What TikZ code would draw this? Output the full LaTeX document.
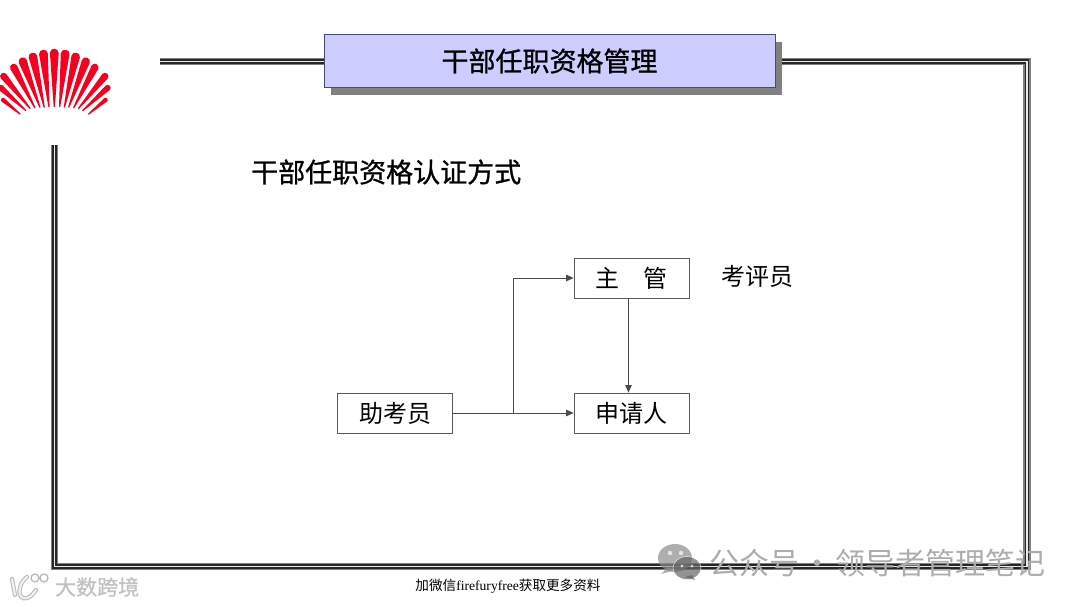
\documentclass[tikz,border=0pt]{standalone}
\usepackage{fontspec}
\setmainfont{Liberation Serif}
\newfontfamily\cjk{Noto Sans CJK SC}
\newfontfamily\cjkheavy[FakeBold=0.9]{Noto Sans CJK SC}
\usetikzlibrary{arrows.meta,calc}
\definecolor{titlefill}{HTML}{CCCCFF}
\definecolor{titleedge}{HTML}{4A4A78}
\definecolor{logored}{HTML}{F5001E}
\tikzset{
	rolebox/.style={draw=black!65,line width=0.8pt,fill=white,minimum width=115pt,minimum height=40pt,inner sep=0pt,font=\cjk\fontsize{24}{24}\selectfont},
	flow/.style={draw=black!70,line width=0.8pt,-{Stealth[length=7.5pt,width=6.5pt,inset=0pt]}},
	heading/.style={inner sep=0pt,font=\cjkheavy\fontsize{27}{27}\selectfont},
	markText/.style={inner sep=0pt,text=black!32,font=\cjk\fontsize{30}{30}\selectfont}
}
\newcommand{\fanpetal}[5]{%
	\pgfmathsetmacro{\petalang}{atan2((#2)-(#4),(#3)-(#1))}
	\pgfmathsetmacro{\petallen}{veclen((#3)-(#1),(#4)-(#2))}
	\begin{scope}[shift={(#1,#2)},rotate=\petalang]
		\fill[logored] (0,-0.6) -- (\petallen-#5,-#5) .. controls (\petallen+0.25*#5,-#5) and (\petallen+0.25*#5,#5) .. (\petallen-#5,#5) -- (0,0.6) -- cycle;
	\end{scope}}
\begin{document}
\begin{tikzpicture}[x=1pt,y=-1pt,>=Stealth]
	\useasboundingbox[fill=white] (0,0) rectangle (1080,607);
	% logo
	\fanpetal{54.3}{107}{54.3}{48.5}{4.4}
	\foreach \s in {-1,1}{
		\foreach \ix/\iy/\tx/\ty/\w in {5.3/107/11.3/49.5/4.4,10/107.5/22.3/52.5/4.3,14.3/107.5/33/57.5/4.2,19.3/108/42.3/64/3.8,24/108.7/53/73.5/3.5,28.3/110.7/55.7/85.7/3,34/114.3/53/98.5/2.2}{
			\fanpetal{54.3+\s*\ix}{\iy}{54.3+\s*\tx}{\ty}{\w}
		}
	}
	% frame
	\foreach \c/\w in {black!50/7.4,black!85/4.4,black!8/1.8}{
		\draw[\c,line width=\w pt,line join=miter] (160,61.5) -- (1027,61.5) -- (1027,566.5) -- (54.5,566.5) -- (54.5,145);
	}
	% title bar
	\fill[black!50] (331,42) rectangle (782,95);
	\node[draw=titleedge,line width=0.9pt,fill=titlefill,minimum width=451pt,minimum height=53pt,inner sep=0pt,font=\cjkheavy\fontsize{27}{27}\selectfont] (title) at (549.5,61) {干部任职资格管理};
	\node[heading,anchor=west] (method) at (251,172) {干部任职资格认证方式};
	% roles
	\node[rolebox] (chief) at (631.5,278) {主\quad 管};
	\node[rolebox] (applicant) at (631.5,413) {申请人};
	\node[rolebox] (assistant) at (395,413) {助考员};
	\node[inner sep=0pt,font=\cjk\fontsize{24}{24}\selectfont] (judge) at (757,276) {考评员};
	\coordinate (branch) at (513,413);
	\coordinate (chiefout) at (628.5,298);
	\draw[flow] (assistant) -- (applicant);
	\draw[flow] (branch) |- (chief);
	\draw[flow] (chiefout) -- (chiefout |- applicant.north);
	% footer
	\node[inner sep=0pt,font=\fontsize{13.6}{13.6}\selectfont] (footer) at (508,586) {{\cjk\fontsize{13.6}{13.6}\selectfont 加微信}firefuryfree{\cjk\fontsize{13.6}{13.6}\selectfont 获取更多资料}};
	% watermarks
	\begin{scope}[opacity=0.7]
		\fill[black!45] (675,558) ellipse (17pt and 14pt);
		\fill[black!45] (668,567) -- (661,574) -- (676,570) -- cycle;
		\fill[black!60,draw=white,line width=0.6pt] (687,568) ellipse (14pt and 11.5pt);
		\fill[black!60] (692,575) -- (695,580) -- (685,577) -- cycle;
		\fill[white] (670,553) circle (2.2pt) (681,553) circle (2.2pt) (682,566) circle (1.6pt) (692,566) circle (1.6pt);
	\end{scope}
	\node[markText,anchor=west] (account) at (709,563) {公众号\hspace{3pt}·\hspace{3pt}领导者管理笔记};
	\foreach \c/\w in {black!28/4.2,black!6/2.2}{
		\draw[\c,line width=\w pt,line cap=round] (12,579) -- (15,595);
		\draw[\c,line width=\w pt,line cap=round] (27,577) .. controls (17,584) and (17,601) .. (27,598) .. controls (31,597) and (33,594) .. (36,590);
	}
	\draw[black!28,line width=1.3pt] (35,578) circle (4pt) (44,578) circle (4pt);
	\node[inner sep=0pt,text=black!24,font=\cjkheavy\fontsize{21}{21}\selectfont,anchor=west] (brand) at (55,587) {大数跨境};
\end{tikzpicture}
\end{document}
